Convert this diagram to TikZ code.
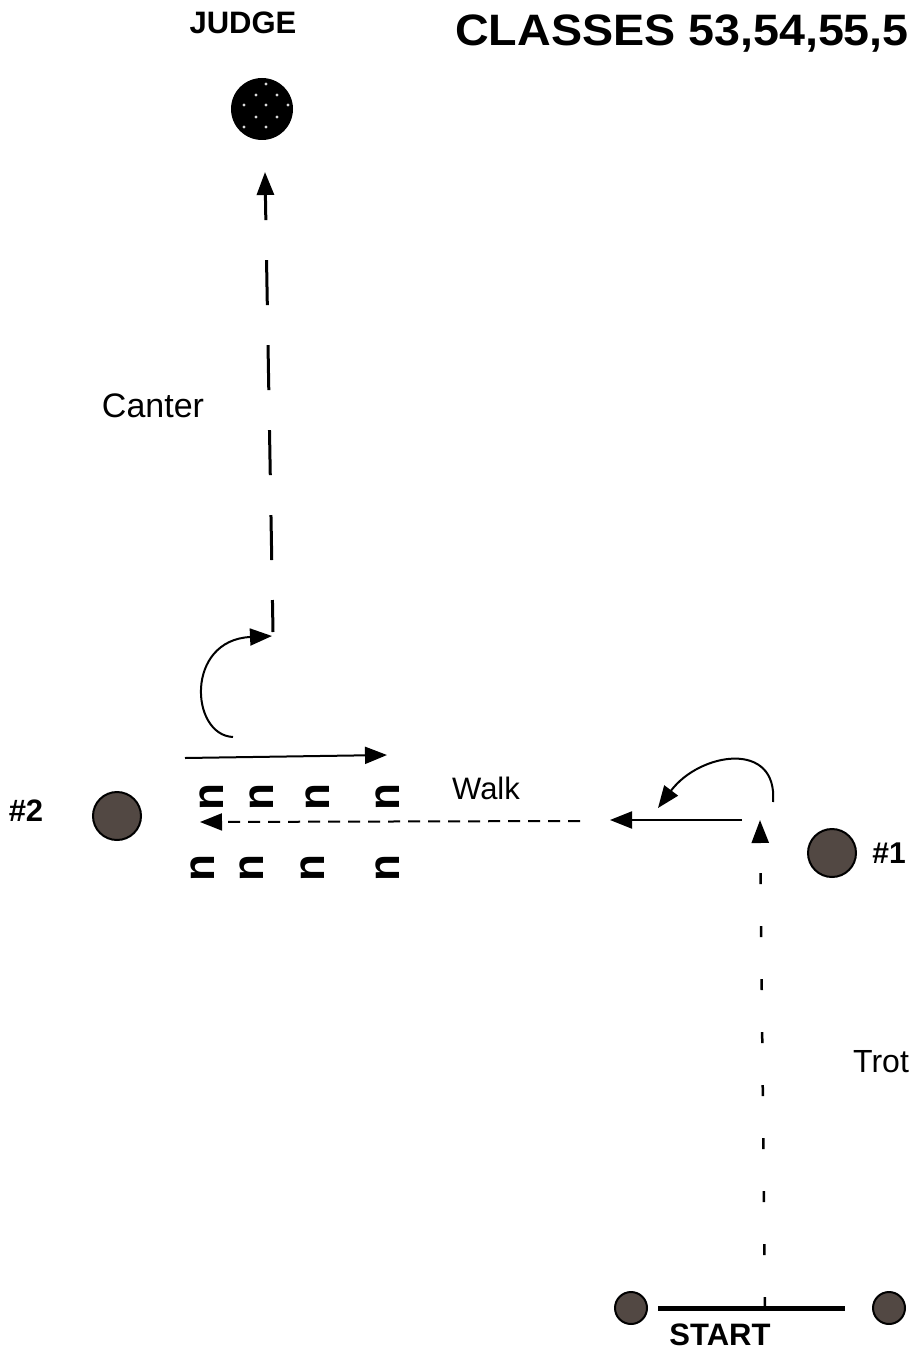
\documentclass[tikz,border=0pt]{standalone}
\usepackage{fontspec}
\setmainfont{Liberation Sans}
\usepackage{tikz}
\usetikzlibrary{arrows.meta,calc}

\definecolor{postcol}{RGB}{82,72,67}

\tikzset{
  post/.style={circle, draw, line width=2pt, fill=postcol, minimum size=48pt, inner sep=0pt},
  startpost/.style={post, minimum size=32pt},
  pole/.style={rotate=90, inner sep=0pt, font=\fontsize{44}{44}\selectfont\bfseries},
  gait/.style={inner sep=0pt},
  bigtip/.style={-{Triangle[length=23pt,width=17pt]}},
  smalltip/.style={-{Triangle[length=22pt,width=17pt]}}
}

\begin{document}
\begin{tikzpicture}[x=1pt,y=-1pt]
\useasboundingbox (0,0) rectangle (913,1351);
% Title and judge
\node[anchor=west, inner sep=0pt] (title) at (455,34) {\scalebox{1.06}[1]{\fontsize{44}{48}\selectfont\bfseries CLASSES 53,54,55,5}};
\node[gait, font=\fontsize{31}{36}\selectfont\bfseries] (judgelbl) at (243,23) {JUDGE};
\node[circle, fill=black, minimum size=62pt, inner sep=0pt] (judge) at (262,109) {};
\foreach \dx/\dy in {4/-25, -6/-14, 15/-14, -18/-4, 4/-4, 26/-4, -6/8, 15/8, -18/18, 4/18} {
  \fill[white!70!gray] ($(judge.center)+(\dx,\dy)$) circle (1.6pt);
}
% Posts
\node[post] (p2) at (117,816) {};
\node[post] (p1) at (832,853) {};
\node[startpost] (sl) at (631,1308) {};
\node[startpost] (sr) at (889,1308) {};
\node[gait, font=\fontsize{31}{36}\selectfont\bfseries] (p2lbl) at (26,811) {\#2};
\node[gait, font=\fontsize{30}{36}\selectfont\bfseries] (p1lbl) at (889,853) {\#1};
\node[gait, font=\fontsize{31}{36}\selectfont\bfseries] (startlbl) at (720,1335) {START};
% Start line
\coordinate (sa) at (658,1308);
\coordinate (sb) at (845,1308);
\draw[line width=5pt] (sa) -- (sb);
% Gaits
\node[gait, font=\fontsize{34}{40}\selectfont] (canter) at (153,406) {Canter};
\node[gait, font=\fontsize{31}{36}\selectfont] (walk) at (486,788) {Walk};
\node[gait, font=\fontsize{32}{38}\selectfont, anchor=west] (trot) at (853,1062) {Trot};
% Poles
\foreach \x in {212,262,318,388} {
  \node[pole] at (\x,797) {n};
}
\foreach \x in {203,252,313,388} {
  \node[pole] at (\x,868) {n};
}
% Trot up the right side
\coordinate (t0) at (765,1308);
\coordinate (t1) at (760,820);
\draw[line width=2.5pt, dash pattern=on 11pt off 42pt, bigtip] (t0) -- (t1);
% Turn and walk left
\coordinate (w0) at (773,802);
\coordinate (w1) at (658,808);
\draw[line width=2pt, smalltip] (w0) .. controls (778,740) and (700,752) .. (w1);
\coordinate (w2) at (742,820);
\coordinate (w3) at (610,820);
\draw[line width=2pt, smalltip] (w2) -- (w3);
\coordinate (w4) at (580,821);
\coordinate (w5) at (200,822);
\draw[line width=2pt, dash pattern=on 12pt off 8pt, smalltip] (w4) -- (w5);
% Back over poles and canter to judge
\coordinate (c0) at (185,758);
\coordinate (c1) at (387,755);
\draw[line width=2pt, smalltip] (c0) -- (c1);
\coordinate (c2) at (233,737);
\coordinate (c3) at (272,636);
\draw[line width=2pt, smalltip] (c2) .. controls (190,735) and (185,640) .. (c3);
\coordinate (c4) at (273,632);
\coordinate (c5) at (265,172);
\draw[line width=3pt, dash pattern=on 45pt off 40pt, dash phase=13pt, bigtip] (c4) -- (c5);
\end{tikzpicture}
\end{document}
